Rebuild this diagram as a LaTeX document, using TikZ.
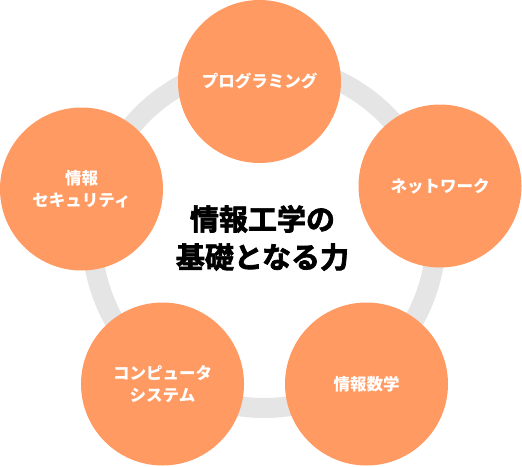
\documentclass[tikz,border=0pt]{standalone}
\usepackage{fontspec}
\newfontfamily\jp{Noto Sans CJK JP}
\newfontfamily\jpheavy{Noto Sans CJK JP}[UprightFont=* Bold, FakeBold=2.5]
\definecolor{bubble}{HTML}{FF9A62}
\definecolor{ringgray}{HTML}{E5E5E5}
\tikzset{
  bub/.style={circle, fill=bubble, minimum size=163pt, inner sep=0pt,
    text=white, align=center, font=\jp\bfseries\fontsize{16.5}{22}\selectfont},
  ringline/.style={draw=ringgray, line width=20pt},
  title/.style={align=center, text=black, font=\jpheavy\fontsize{29}{38}\selectfont}
}
\begin{document}
\begin{tikzpicture}[x=1pt,y=-1pt]
\useasboundingbox (0,0) rectangle (522,466);
\coordinate (c) at (264,236);
\draw[ringline] (c) circle[radius=172pt];
\node[bub] (prog) at (259.5,81.5) {プログラミング};
\node[bub] (net) at (440,186) {ネットワーク};
\node[bub] (math) at (366.5,384) {情報数学};
\node[bub] (comp) at (162.5,384) {コンピュータ\\システム};
\node[bub] (sec) at (81.5,189) {情報\\セキュリティ};
\node[title] (center) at (262.5,238) {情報工学の\\基礎となる力};
\end{tikzpicture}
\end{document}
